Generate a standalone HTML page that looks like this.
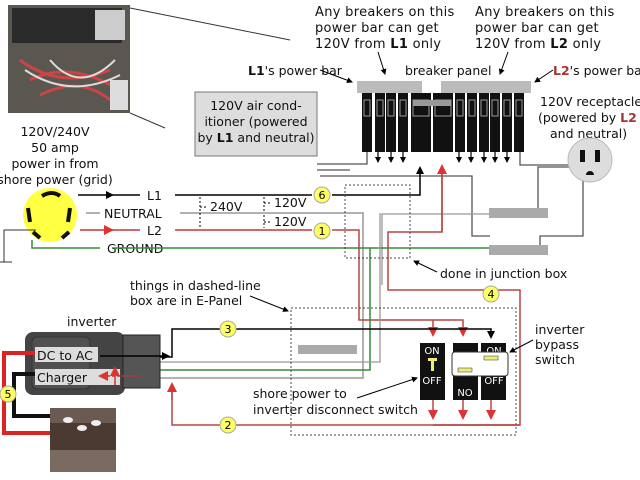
<!DOCTYPE html>
<html><head><meta charset="utf-8"><style>
html,body{margin:0;padding:0;background:#fff;width:640px;height:480px;overflow:hidden}
svg{display:block;font-family:"DejaVu Sans","Liberation Sans",sans-serif}
</style></head><body>
<svg width="640" height="480" viewBox="0 0 640 480" xmlns="http://www.w3.org/2000/svg">
<defs>
<marker id="ab" markerWidth="8" markerHeight="8" refX="6" refY="4" orient="auto" markerUnits="userSpaceOnUse"><path d="M0,0 L8,4 L0,8 z" fill="#000"/></marker>
<marker id="ar" markerWidth="10" markerHeight="10" refX="8" refY="5" orient="auto" markerUnits="userSpaceOnUse"><path d="M0,0 L10,5 L0,10 z" fill="#d33"/></marker>
<marker id="as" markerWidth="6" markerHeight="6" refX="5" refY="3" orient="auto" markerUnits="userSpaceOnUse"><path d="M0,0 L6,3 L0,6 z" fill="#000"/></marker>
</defs>
<!-- photo -->
<rect x="8" y="5" width="122" height="108" fill="#5a5650"/>
<rect x="12" y="8" width="110" height="35" fill="#2a2a2a"/>
<rect x="95" y="10" width="30" height="30" fill="#ccc"/>
<path d="M20,60 Q60,90 110,70 M30,80 Q70,60 120,90 M40,95 Q80,75 110,100" stroke="#c44" stroke-width="3" fill="none"/>
<path d="M25,70 Q70,100 120,75 M50,60 Q80,95 115,60" stroke="#ddd" stroke-width="2" fill="none"/>
<rect x="110" y="80" width="18" height="30" fill="#ddd"/>
<line x1="130" y1="8" x2="290" y2="40" stroke="#333" stroke-width="1"/>
<line x1="130" y1="113" x2="165" y2="128" stroke="#333" stroke-width="1"/>
<g font-size="13" fill="#111" letter-spacing="0.3">
<text x="315" y="16">Any breakers on this</text>
<text x="315" y="32">power bar can get</text>
<text x="315" y="48">120V from <tspan font-weight="bold">L1</tspan> only</text>
<text x="475" y="16">Any breakers on this</text>
<text x="475" y="32">power bar can get</text>
<text x="475" y="48">120V from <tspan font-weight="bold">L2</tspan> only</text>
</g>
<g font-size="12.5" fill="#111">
<text x="248" y="75"><tspan font-weight="bold">L1</tspan>'s power bar</text>
<text x="405" y="75">breaker panel</text>
<text x="553" y="75"><tspan fill="#a33" font-weight="bold">L2</tspan>'s power bar</text>
<text x="540" y="106">120V receptacle</text>
<text x="538" y="122">(powered by <tspan fill="#a33" font-weight="bold">L2</tspan></text>
<text x="550" y="138">and neutral)</text>
<text x="55" y="136" text-anchor="middle">120V/240V</text>
<text x="55" y="152" text-anchor="middle">50 amp</text>
<text x="55" y="168" text-anchor="middle">power in from</text>
<text x="55" y="184" text-anchor="middle">shore power (grid)</text>
</g>
<line x1="378" y1="52" x2="385" y2="74" stroke="#000" marker-end="url(#as)"/>
<line x1="508" y1="52" x2="500" y2="74" stroke="#000" marker-end="url(#as)"/>
<line x1="320" y1="70" x2="352" y2="82" stroke="#000" marker-end="url(#as)"/>
<line x1="553" y1="70" x2="535" y2="82" stroke="#000" marker-end="url(#as)"/>
<!-- power bars -->
<rect x="357" y="81" width="65" height="12" fill="#bbb"/>
<rect x="441" y="81" width="90" height="12" fill="#bbb"/>
<g fill="#111">
<rect x="362" y="93" width="10" height="59"/><rect x="375" y="93" width="10" height="59"/><rect x="386" y="93" width="10" height="59"/><rect x="398" y="93" width="10" height="59"/>
<rect x="411" y="93" width="20" height="59"/><rect x="433" y="93" width="20" height="59"/>
<rect x="455" y="93" width="10" height="59"/><rect x="467" y="93" width="10" height="59"/><rect x="479" y="93" width="10" height="59"/><rect x="490" y="93" width="10" height="59"/><rect x="502" y="93" width="10" height="59"/><rect x="514" y="93" width="10" height="59"/>
</g>
<g fill="none" stroke="#999">
<rect x="364" y="100" width="6" height="16"/><rect x="377" y="100" width="6" height="16"/><rect x="388" y="100" width="6" height="16"/><rect x="400" y="100" width="6" height="16"/>
<rect x="413" y="100" width="16" height="16"/><rect x="435" y="100" width="16" height="16"/>
<rect x="457" y="100" width="6" height="16"/><rect x="469" y="100" width="6" height="16"/><rect x="481" y="100" width="6" height="16"/><rect x="492" y="100" width="6" height="16"/><rect x="504" y="100" width="6" height="16"/><rect x="516" y="100" width="6" height="16"/>
</g>
<rect x="413" y="100" width="38" height="6" fill="#999"/>
<g stroke="#000" stroke-width="1.2">
<line x1="378" y1="152" x2="378" y2="162" marker-end="url(#as)"/><line x1="391" y1="152" x2="391" y2="162" marker-end="url(#as)"/><line x1="403" y1="152" x2="403" y2="162" marker-end="url(#as)"/>
<line x1="459" y1="152" x2="459" y2="162" marker-end="url(#as)"/><line x1="471" y1="152" x2="471" y2="162" marker-end="url(#as)"/><line x1="484" y1="152" x2="484" y2="162" marker-end="url(#as)"/><line x1="495" y1="152" x2="495" y2="162" marker-end="url(#as)"/><line x1="507" y1="152" x2="507" y2="162" marker-end="url(#as)"/>
</g>
<!-- AC box -->
<rect x="195" y="92" width="122" height="64" fill="#ddd" stroke="#777"/>
<g font-size="12.5" fill="#111" text-anchor="middle">
<text x="256" y="110">120V air cond-</text>
<text x="256" y="126">itioner (powered</text>
<text x="256" y="142">by <tspan font-weight="bold">L1</tspan> and neutral)</text>
</g>
<g fill="none" stroke="#555" stroke-width="1.3">
<polyline points="317,164 367,164 367,152"/>
<polyline points="317,170 350,170"/>
<polyline points="520,152 520,165 568,165"/>
<polyline points="320,176 472,176 472,236 490,236"/>
<polyline points="575,167 538,167 538,208"/>
<polyline points="583,180 583,236 540,236 540,245"/>
</g>
<!-- receptacle -->
<circle cx="590" cy="160" r="22" fill="#ddd" stroke="#bbb"/>
<rect x="580" y="150" width="5" height="12" fill="#111"/><rect x="595" y="150" width="5" height="12" fill="#111"/>
<path d="M586,175 a4,4 0 0 1 8,0 z" fill="#111"/>
<!-- shore plug -->
<circle cx="50" cy="215" r="27" fill="#ffff44"/>
<path d="M42,196 Q52,190 60,196" stroke="#111" stroke-width="4" fill="none"/>
<path d="M28,208 L30,222" stroke="#111" stroke-width="4"/>
<path d="M70,208 L68,222" stroke="#111" stroke-width="4"/>
<path d="M33,232 L40,238" stroke="#111" stroke-width="4"/>
<path d="M62,238 L69,232" stroke="#111" stroke-width="4"/>
<polyline points="36,230 4,230 4,262" stroke="#333" fill="none"/>
<line x1="0" y1="262" x2="12" y2="262" stroke="#333"/>
<!-- lines -->
<line x1="78" y1="195" x2="112" y2="195" stroke="#000" stroke-width="1.5" marker-end="url(#ab)"/>
<line x1="110" y1="195" x2="140" y2="195" stroke="#000" stroke-width="1.5"/>
<line x1="86" y1="213" x2="100" y2="213" stroke="#999" stroke-width="1.5"/>
<line x1="80" y1="230" x2="112" y2="230" stroke="#c33" stroke-width="1.5" marker-end="url(#ar)"/>
<line x1="110" y1="230" x2="140" y2="230" stroke="#c33" stroke-width="1.5"/>
<polyline points="32,240 32,248 100,248" stroke="#3a8a3a" stroke-width="1.5" fill="none"/>
<g font-size="12.5" fill="#111">
<text x="147" y="200">L1</text>
<text x="104" y="218">NEUTRAL</text>
<text x="147" y="235">L2</text>
<text x="107" y="253">GROUND</text>
</g>
<polyline points="175,195 312,195" stroke="#000" stroke-width="1.5" fill="none"/>
<polyline points="332,195 420,195 420,168" stroke="#000" stroke-width="1.5" fill="none" marker-end="url(#ab)"/>
<polyline points="180,213 363,213 363,378 144,378" stroke="#999" stroke-width="1.5" fill="none"/>
<polyline points="382,285 382,214 490,214" stroke="#999" stroke-width="1.3" fill="none"/>
<polyline points="175,230 312,230" stroke="#c33" stroke-width="1.5" fill="none"/>
<polyline points="332,230 359,230 359,320 463,320 463,335" stroke="#b44" stroke-width="1.5" fill="none" marker-end="url(#ar)"/>
<polyline points="433,320 433,335" stroke="#b44" stroke-width="1.5" fill="none" marker-end="url(#ar)"/>
<polyline points="442,166 442,232 388,232 388,290 520,290 520,425 433,425" stroke="#b44" stroke-width="1.5" fill="none"/>
<polyline points="442,232 442,166" stroke="#b44" stroke-width="1.5" fill="none" marker-end="url(#ar)"/>
<polyline points="112,248 370,248 370,370 144,370" stroke="#3a8a3a" stroke-width="1.5" fill="none"/>
<line x1="370" y1="248" x2="490" y2="248" stroke="#3a8a3a" stroke-width="1.5"/>
<polyline points="380,213 380,362 144,362" stroke="#999" stroke-width="1.3" fill="none"/>
<!-- voltage arrows -->
<g stroke="#000" stroke-dasharray="2,2" stroke-width="1">
<line x1="200" y1="197" x2="200" y2="228"/><line x1="264" y1="197" x2="264" y2="211"/><line x1="264" y1="215" x2="264" y2="228"/>
<line x1="200" y1="207" x2="208" y2="207"/><line x1="264" y1="203" x2="272" y2="203"/><line x1="264" y1="222" x2="272" y2="222"/>
</g>
<g font-size="12.5" fill="#111"><text x="210" y="211">240V</text><text x="274" y="207">120V</text><text x="274" y="226">120V</text></g>
<!-- junction bars -->
<rect x="489" y="208" width="59" height="10" fill="#aaa"/>
<rect x="489" y="245" width="59" height="10" fill="#aaa"/>
<rect x="345" y="185" width="65" height="73" fill="none" stroke="#444" stroke-dasharray="2,2"/>
<line x1="437" y1="272" x2="414" y2="261" stroke="#000" marker-end="url(#as)"/>
<text x="440" y="278" font-size="12.5" fill="#111">done in junction box</text>
<!-- circles -->
<g font-size="11" text-anchor="middle" stroke-width="1">
<circle cx="322" cy="195" r="8" fill="#ffff66" stroke="#aa9"/><text x="322" y="199">6</text>
<circle cx="322" cy="231" r="8" fill="#ffff66" stroke="#aa9"/><text x="322" y="235">1</text>
<circle cx="491" cy="294" r="8" fill="#ffff66" stroke="#aa9"/><text x="491" y="298">4</text>
</g>
<!-- E panel -->
<rect x="291" y="308" width="225" height="127" fill="none" stroke="#444" stroke-dasharray="2,2"/>
<rect x="298" y="345" width="59" height="9" fill="#aaa"/>
<polyline points="160,357 172,357 172,329 491,329 491,337" stroke="#000" stroke-width="1.5" fill="none" marker-end="url(#ab)"/>
<polyline points="172,390 172,425 520,425" stroke="#b44" stroke-width="1.5" fill="none"/>
<line x1="172" y1="400" x2="172" y2="384" stroke="#b44" stroke-width="1.5" marker-end="url(#ar)"/>
<g fill="#111">
<rect x="420" y="343" width="25" height="57"/><rect x="453" y="343" width="25" height="57"/><rect x="481" y="343" width="25" height="57"/>
</g>
<rect x="428" y="358" width="9" height="3" fill="#ee7"/><rect x="431" y="361" width="3" height="10" fill="#ee7"/>
<g font-size="10" fill="#fff" text-anchor="middle"><text x="432" y="354">ON</text><text x="432" y="384">OFF</text><text x="465" y="396">NO</text><text x="494" y="354">ON</text><text x="494" y="384">OFF</text></g>
<rect x="452" y="352" width="56" height="24" rx="3" fill="#fff" stroke="#333"/>
<rect x="458" y="368" width="14" height="4" fill="#ee7" stroke="#333" stroke-width=".5"/>
<rect x="484" y="356" width="14" height="4" fill="#ee7" stroke="#333" stroke-width=".5"/>
<g stroke="#b44" stroke-width="1.5">
<line x1="433" y1="400" x2="433" y2="418" marker-end="url(#ar)"/><line x1="463" y1="400" x2="463" y2="418" marker-end="url(#ar)"/><line x1="491" y1="400" x2="491" y2="418" marker-end="url(#ar)"/>
</g>
<!-- inverter -->
<rect x="25" y="332" width="100" height="63" rx="8" fill="#444"/>
<rect x="32" y="337" width="58" height="52" rx="5" fill="#505050" stroke="#333"/>
<rect x="123" y="335" width="37" height="53" fill="#555" stroke="#222"/>
<rect x="35" y="347" width="63" height="15" fill="#ddd"/>
<rect x="35" y="369" width="85" height="16" fill="#ddd"/>
<g font-size="12.5" fill="#111"><text x="37" y="360">DC to AC</text><text x="37" y="382">Charger</text></g>
<line x1="100" y1="356" x2="168" y2="356" stroke="#000" stroke-width="1.5" marker-end="url(#ab)"/>
<polyline points="140,376 100,376" stroke="#c33" stroke-width="1.5" stroke-dasharray="3,2" fill="none" marker-end="url(#ar)"/>
<line x1="115" y1="385" x2="115" y2="368" stroke="#c33" stroke-width="1.5" marker-end="url(#ar)"/>
<polyline points="35,353 4,353 4,433 80,433" stroke="#d22" stroke-width="4" fill="none"/>
<polyline points="35,374 14,374 14,416 70,416" stroke="#111" stroke-width="4" fill="none"/>
<circle cx="8" cy="394" r="8" fill="#ffff66" stroke="#aa9"/><text x="8" y="398" font-size="11" text-anchor="middle">5</text>
<!-- battery -->
<rect x="50" y="408" width="66" height="64" fill="#4a3a32"/>
<rect x="50" y="408" width="66" height="15" fill="#6a5a52"/>
<ellipse cx="68" cy="420" rx="5" ry="3" fill="#eee"/><ellipse cx="82" cy="428" rx="5" ry="3" fill="#eee"/><ellipse cx="96" cy="423" rx="5" ry="3" fill="#eee"/>
<rect x="50" y="450" width="66" height="22" fill="#7a6a60"/>
<g font-size="11" text-anchor="middle">
<circle cx="228" cy="329" r="8" fill="#ffff66" stroke="#aa9"/><text x="228" y="333">3</text>
<circle cx="228" cy="425" r="8" fill="#ffff66" stroke="#aa9"/><text x="228" y="429">2</text>
</g>
<g font-size="12.5" fill="#111">
<text x="130" y="290">things in dashed-line</text>
<text x="130" y="305">box are in E-Panel</text>
<text x="67" y="326">inverter</text>
<text x="253" y="398">shore power to</text>
<text x="253" y="414">inverter disconnect switch</text>
<text x="535" y="334">inverter</text>
<text x="535" y="349">bypass</text>
<text x="535" y="364">switch</text>
</g>
<line x1="250" y1="296" x2="288" y2="311" stroke="#000" marker-end="url(#as)"/>
<line x1="357" y1="398" x2="417" y2="378" stroke="#000" marker-end="url(#as)"/>
<line x1="533" y1="340" x2="510" y2="352" stroke="#000" marker-end="url(#as)"/>
</svg>
</body></html>
